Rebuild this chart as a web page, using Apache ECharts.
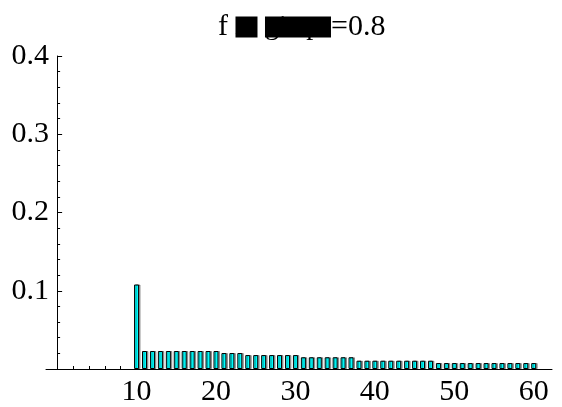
<!DOCTYPE html>
<html>
<head>
<meta charset="utf-8">
<script src="https://cdn.jsdelivr.net/npm/echarts@6/dist/echarts.min.js"></script>
<style>html,body{margin:0;padding:0;background:#fff}#c{width:562px;height:407px}</style>
</head>
<body>
<div id="c"></div>
<script>
const nValues = [10,11,12,13,14,15,16,17,18,19,20,21,22,23,24,25,26,27,28,29,30,31,32,33,34,35,36,37,38,39,40,41,42,43,44,45,46,47,48,49,50,51,52,53,54,55,56,57,58,59,60];
const probValues = [0.108,
  0.023,0.023,0.023,0.023,0.023,0.023,0.023,0.023,0.023,0.023,
  0.0204,0.0204,0.0204,
  0.0178,0.0178,0.0178,0.0178,0.0178,0.0178,0.0178,
  0.015,0.015,0.015,0.015,0.015,0.015,0.015,
  0.0106,0.0106,0.0106,0.0106,0.0106,0.0106,0.0106,0.0106,0.0106,0.0106,
  0.0076,0.0076,0.0076,0.0076,0.0076,0.0076,0.0076,0.0076,0.0076,0.0076,0.0076,0.0076,0.0076];
const xMajorTicks = [10,20,30,40,50,60];
const xMinorTicks = [2,4,6,8,12,14,16,18,22,24,26,28,32,34,36,38,42,44,46,48,52,54,56,58];
const titleParts = ['f ', 'x', 'gia p', '=0.8'];

const font = 'Liberation Serif';
const chart = echarts.init(document.getElementById('c'), null, {renderer:'canvas'});
chart.setOption({
  animation: false,
  title: {
    text: titleParts[0] + '{a|' + titleParts[1] + '} {b|' + titleParts[2] + '}' + titleParts[3],
    left: 213, top: 7,
    textStyle: {
      fontFamily: font, fontSize: 30, fontWeight: 'normal', color: '#000',
      rich: {
        a: {backgroundColor:'#000', color:'#000', width:22, height:21, fontFamily: font, fontSize: 28},
        b: {backgroundColor:'#000', color:'#000', width:66, height:21, fontFamily: font, fontSize: 28}
      }
    }
  },
  grid: {left: 46, right: 10, top: 56, bottom: 37, containLabel: false},
  xAxis: [{
    type: 'value', min: -1.4, max: 62.3,
    axisLine: {show: true, onZero: false, lineStyle: {color: '#000', width: 1}},
    axisTick: {show: true, inside: true, length: 5, customValues: xMajorTicks, lineStyle: {color:'#000'}},
    axisLabel: {show: true, customValues: xMajorTicks, fontFamily: font, fontSize: 30, color: '#000', margin: 8},
    splitLine: {show: false}
  }, {
    type: 'value', min: -1.4, max: 62.3, position: 'bottom',
    axisLine: {show: false},
    axisTick: {show: true, inside: true, length: 3, customValues: xMinorTicks, lineStyle: {color:'#000'}},
    axisLabel: {show: false},
    splitLine: {show: false}
  }],
  yAxis: {
    type: 'value', min: 0, max: 0.4, interval: 0.1,
    axisLine: {show: true, onZero: true, lineStyle: {color:'#000', width: 1}},
    axisTick: {show: true, inside: true, length: 5, lineStyle: {color:'#000'}},
    minorTick: {show: true, splitNumber: 5, length: 3, lineStyle: {color:'#000'}},
    axisLabel: {fontFamily: font, fontSize: 30, color: '#000', margin: -3,
      formatter: v => v === 0 ? '' : String(Math.round(v*10)/10)},
    splitLine: {show: false}
  },
  series: [{
    type: 'bar',
    xAxisIndex: 0,
    data: nValues.map((n, i) => [n, probValues[i]]),
    barWidth: 5,
    itemStyle: {color: '#00ffff', borderColor: '#000', borderWidth: 1,
      shadowColor: 'rgba(0,0,0,0.35)', shadowBlur: 0, shadowOffsetX: 1.5}
  }]
});
</script>
</body>
</html>
